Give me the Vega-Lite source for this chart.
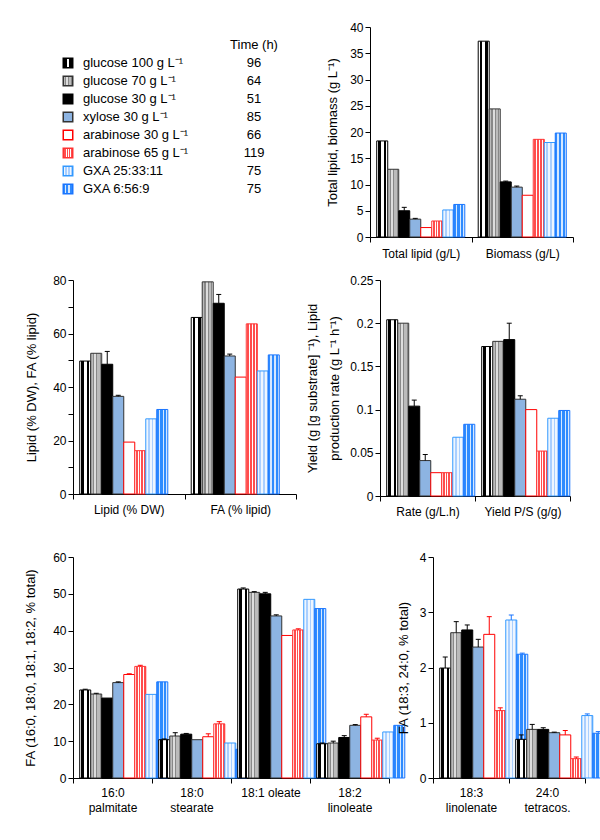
{
  "$schema": "https://vega.github.io/schema/vega-lite/v6.json",
  "padding": {"left": 24, "top": 21, "right": 5, "bottom": 5},
  "params": [
    {"name": "fills", "value": {
      "s1": {"gradient": "linear", "x1": 0, "y1": 0, "x2": 1, "y2": 0, "stops": [
        {"offset": 0, "color": "#ffffff"}, {"offset": 0.12, "color": "#ffffff"},
        {"offset": 0.12, "color": "#000000"}, {"offset": 0.38, "color": "#000000"},
        {"offset": 0.38, "color": "#ffffff"}, {"offset": 0.62, "color": "#ffffff"},
        {"offset": 0.62, "color": "#000000"}, {"offset": 0.88, "color": "#000000"},
        {"offset": 0.88, "color": "#ffffff"}, {"offset": 1, "color": "#ffffff"}]},
      "s2": {"gradient": "linear", "x1": 0, "y1": 0, "x2": 1, "y2": 0, "stops": [
        {"offset": 0, "color": "#bbbbbb"}, {"offset": 0.2, "color": "#bbbbbb"},
        {"offset": 0.2, "color": "#888888"}, {"offset": 0.3, "color": "#888888"},
        {"offset": 0.3, "color": "#dddddd"}, {"offset": 0.5, "color": "#dddddd"},
        {"offset": 0.5, "color": "#888888"}, {"offset": 0.6, "color": "#888888"},
        {"offset": 0.6, "color": "#bbbbbb"}, {"offset": 0.8, "color": "#bbbbbb"},
        {"offset": 0.8, "color": "#888888"}, {"offset": 0.9, "color": "#888888"},
        {"offset": 0.9, "color": "#dddddd"}, {"offset": 1, "color": "#dddddd"}]},
      "s3": "#000000",
      "s4": "#8DB4E2",
      "s5": "#ffffff",
      "s6": {"gradient": "linear", "x1": 0, "y1": 0, "x2": 1, "y2": 0, "stops": [
        {"offset": 0, "color": "#ffffff"}, {"offset": 0.1, "color": "#ffffff"},
        {"offset": 0.1, "color": "#ff4d4d"}, {"offset": 0.25, "color": "#ff4d4d"},
        {"offset": 0.25, "color": "#ffffff"}, {"offset": 0.35, "color": "#ffffff"},
        {"offset": 0.35, "color": "#ff4d4d"}, {"offset": 0.5, "color": "#ff4d4d"},
        {"offset": 0.5, "color": "#ffffff"}, {"offset": 0.6, "color": "#ffffff"},
        {"offset": 0.6, "color": "#ff4d4d"}, {"offset": 0.75, "color": "#ff4d4d"},
        {"offset": 0.75, "color": "#ffffff"}, {"offset": 0.85, "color": "#ffffff"},
        {"offset": 0.85, "color": "#ff4d4d"}, {"offset": 1, "color": "#ff4d4d"}]},
      "s7": {"gradient": "linear", "x1": 0, "y1": 0, "x2": 1, "y2": 0, "stops": [
        {"offset": 0, "color": "#eef6ff"}, {"offset": 0.2, "color": "#eef6ff"},
        {"offset": 0.2, "color": "#a9cfff"}, {"offset": 0.35, "color": "#a9cfff"},
        {"offset": 0.35, "color": "#eef6ff"}, {"offset": 0.55, "color": "#eef6ff"},
        {"offset": 0.55, "color": "#a9cfff"}, {"offset": 0.7, "color": "#a9cfff"},
        {"offset": 0.7, "color": "#eef6ff"}, {"offset": 0.85, "color": "#eef6ff"},
        {"offset": 0.85, "color": "#a9cfff"}, {"offset": 1, "color": "#a9cfff"}]},
      "s8": {"gradient": "linear", "x1": 0, "y1": 0, "x2": 1, "y2": 0, "stops": [
        {"offset": 0, "color": "#2e8bff"}, {"offset": 0.2, "color": "#2e8bff"},
        {"offset": 0.2, "color": "#d6e8ff"}, {"offset": 0.32, "color": "#d6e8ff"},
        {"offset": 0.32, "color": "#2e8bff"}, {"offset": 0.55, "color": "#2e8bff"},
        {"offset": 0.55, "color": "#d6e8ff"}, {"offset": 0.67, "color": "#d6e8ff"},
        {"offset": 0.67, "color": "#2e8bff"}, {"offset": 0.88, "color": "#2e8bff"},
        {"offset": 0.88, "color": "#d6e8ff"}, {"offset": 1, "color": "#d6e8ff"}]}
    }}
  ],
  "config": {
    "font": "Liberation Sans",
    "view": {"stroke": null},
    "axis": {
      "domainColor": "#000000", "tickColor": "#000000", "labelColor": "#000000", "titleColor": "#000000",
      "grid": false, "tickSize": 5, "labelFontSize": 12, "titleFontSize": 13, "titleFontWeight": "normal",
      "domainWidth": 1, "tickWidth": 1
    },
    "axisX": {"title": null, "labelAngle": 0, "tickBand": "extent", "labelLineHeight": 15, "labelExpr": "split(datum.label, '|')"}
  },
  "datasets": {
    "legend": [
      {"s": "s1", "label": "glucose 100 g L⁻¹", "time": "96"},
      {"s": "s2", "label": "glucose 70 g L⁻¹", "time": "64"},
      {"s": "s3", "label": "glucose 30 g L⁻¹", "time": "51"},
      {"s": "s4", "label": "xylose 30 g L⁻¹", "time": "85"},
      {"s": "s5", "label": "arabinose 30 g L⁻¹", "time": "66"},
      {"s": "s6", "label": "arabinose 65 g L⁻¹", "time": "119"},
      {"s": "s7", "label": "GXA 25:33:11", "time": "75"},
      {"s": "s8", "label": "GXA 6:56:9", "time": "75"}
    ],
    "tr": [
      {"c": "Total lipid (g/L)", "s": "s1", "v": 18.3},
      {"c": "Total lipid (g/L)", "s": "s2", "v": 12.9},
      {"c": "Total lipid (g/L)", "s": "s3", "v": 5.0, "hi": 5.65},
      {"c": "Total lipid (g/L)", "s": "s4", "v": 3.4, "hi": 3.55},
      {"c": "Total lipid (g/L)", "s": "s5", "v": 1.8},
      {"c": "Total lipid (g/L)", "s": "s6", "v": 3.05},
      {"c": "Total lipid (g/L)", "s": "s7", "v": 5.15},
      {"c": "Total lipid (g/L)", "s": "s8", "v": 6.2},
      {"c": "Biomass (g/L)", "s": "s1", "v": 37.3},
      {"c": "Biomass (g/L)", "s": "s2", "v": 24.4},
      {"c": "Biomass (g/L)", "s": "s3", "v": 10.5, "hi": 10.65},
      {"c": "Biomass (g/L)", "s": "s4", "v": 9.5, "hi": 9.7},
      {"c": "Biomass (g/L)", "s": "s5", "v": 7.95},
      {"c": "Biomass (g/L)", "s": "s6", "v": 18.6},
      {"c": "Biomass (g/L)", "s": "s7", "v": 18.0},
      {"c": "Biomass (g/L)", "s": "s8", "v": 19.8}
    ],
    "ml": [
      {"c": "Lipid (% DW)", "s": "s1", "v": 49.7},
      {"c": "Lipid (% DW)", "s": "s2", "v": 52.6},
      {"c": "Lipid (% DW)", "s": "s3", "v": 48.5, "hi": 53.3},
      {"c": "Lipid (% DW)", "s": "s4", "v": 36.5, "hi": 36.9},
      {"c": "Lipid (% DW)", "s": "s5", "v": 19.4},
      {"c": "Lipid (% DW)", "s": "s6", "v": 16.2},
      {"c": "Lipid (% DW)", "s": "s7", "v": 28.1},
      {"c": "Lipid (% DW)", "s": "s8", "v": 31.6},
      {"c": "FA (% lipid)", "s": "s1", "v": 66.0},
      {"c": "FA (% lipid)", "s": "s2", "v": 79.3},
      {"c": "FA (% lipid)", "s": "s3", "v": 71.3, "hi": 74.6},
      {"c": "FA (% lipid)", "s": "s4", "v": 51.6, "hi": 52.3},
      {"c": "FA (% lipid)", "s": "s5", "v": 43.7},
      {"c": "FA (% lipid)", "s": "s6", "v": 63.6},
      {"c": "FA (% lipid)", "s": "s7", "v": 46.0},
      {"c": "FA (% lipid)", "s": "s8", "v": 52.0}
    ],
    "mr": [
      {"c": "Rate (g/L.h)", "s": "s1", "v": 0.204},
      {"c": "Rate (g/L.h)", "s": "s2", "v": 0.200},
      {"c": "Rate (g/L.h)", "s": "s3", "v": 0.104, "hi": 0.111},
      {"c": "Rate (g/L.h)", "s": "s4", "v": 0.041, "hi": 0.048},
      {"c": "Rate (g/L.h)", "s": "s5", "v": 0.027},
      {"c": "Rate (g/L.h)", "s": "s6", "v": 0.027},
      {"c": "Rate (g/L.h)", "s": "s7", "v": 0.068},
      {"c": "Rate (g/L.h)", "s": "s8", "v": 0.083},
      {"c": "Yield P/S (g/g)", "s": "s1", "v": 0.173},
      {"c": "Yield P/S (g/g)", "s": "s2", "v": 0.179},
      {"c": "Yield P/S (g/g)", "s": "s3", "v": 0.181, "hi": 0.200},
      {"c": "Yield P/S (g/g)", "s": "s4", "v": 0.112, "hi": 0.116},
      {"c": "Yield P/S (g/g)", "s": "s5", "v": 0.100},
      {"c": "Yield P/S (g/g)", "s": "s6", "v": 0.052},
      {"c": "Yield P/S (g/g)", "s": "s7", "v": 0.090},
      {"c": "Yield P/S (g/g)", "s": "s8", "v": 0.099}
    ],
    "bl": [
      {"c": "16:0|palmitate", "s": "s1", "v": 23.9, "hi": 24.1},
      {"c": "16:0|palmitate", "s": "s2", "v": 22.8, "hi": 23.0},
      {"c": "16:0|palmitate", "s": "s3", "v": 21.7},
      {"c": "16:0|palmitate", "s": "s4", "v": 25.9, "hi": 26.1},
      {"c": "16:0|palmitate", "s": "s5", "v": 28.1, "hi": 28.3},
      {"c": "16:0|palmitate", "s": "s6", "v": 30.3, "hi": 30.6},
      {"c": "16:0|palmitate", "s": "s7", "v": 22.7},
      {"c": "16:0|palmitate", "s": "s8", "v": 26.1},
      {"c": "18:0|stearate", "s": "s1", "v": 10.4, "hi": 10.6},
      {"c": "18:0|stearate", "s": "s2", "v": 11.4, "hi": 12.3},
      {"c": "18:0|stearate", "s": "s3", "v": 11.9, "hi": 12.1},
      {"c": "18:0|stearate", "s": "s4", "v": 10.4},
      {"c": "18:0|stearate", "s": "s5", "v": 11.2, "hi": 12.0},
      {"c": "18:0|stearate", "s": "s6", "v": 14.7, "hi": 15.3},
      {"c": "18:0|stearate", "s": "s7", "v": 9.5},
      {"c": "18:0|stearate", "s": "s8", "v": 7.8},
      {"c": "18:1 oleate", "s": "s1", "v": 51.3, "hi": 51.6},
      {"c": "18:1 oleate", "s": "s2", "v": 50.4, "hi": 50.6},
      {"c": "18:1 oleate", "s": "s3", "v": 50.0, "hi": 50.4},
      {"c": "18:1 oleate", "s": "s4", "v": 44.0, "hi": 44.3},
      {"c": "18:1 oleate", "s": "s5", "v": 38.7},
      {"c": "18:1 oleate", "s": "s6", "v": 40.2, "hi": 40.5},
      {"c": "18:1 oleate", "s": "s7", "v": 48.5},
      {"c": "18:1 oleate", "s": "s8", "v": 46.0},
      {"c": "18:2|linoleate", "s": "s1", "v": 9.3, "hi": 9.5},
      {"c": "18:2|linoleate", "s": "s2", "v": 9.5, "hi": 10.0},
      {"c": "18:2|linoleate", "s": "s3", "v": 11.0, "hi": 11.5},
      {"c": "18:2|linoleate", "s": "s4", "v": 14.3, "hi": 14.5},
      {"c": "18:2|linoleate", "s": "s5", "v": 16.6, "hi": 17.3},
      {"c": "18:2|linoleate", "s": "s6", "v": 10.3, "hi": 10.8},
      {"c": "18:2|linoleate", "s": "s7", "v": 12.5},
      {"c": "18:2|linoleate", "s": "s8", "v": 14.3}
    ],
    "br": [
      {"c": "18:3|linolenate", "s": "s1", "v": 1.99, "hi": 2.19},
      {"c": "18:3|linolenate", "s": "s2", "v": 2.63, "hi": 2.83},
      {"c": "18:3|linolenate", "s": "s3", "v": 2.68, "hi": 2.77},
      {"c": "18:3|linolenate", "s": "s4", "v": 2.37, "hi": 2.51},
      {"c": "18:3|linolenate", "s": "s5", "v": 2.60, "hi": 2.92},
      {"c": "18:3|linolenate", "s": "s6", "v": 1.22, "hi": 1.27},
      {"c": "18:3|linolenate", "s": "s7", "v": 2.86, "hi": 2.95},
      {"c": "18:3|linolenate", "s": "s8", "v": 2.24, "hi": 2.26},
      {"c": "24:0|tetracos.", "s": "s1", "v": 0.70, "hi": 0.78},
      {"c": "24:0|tetracos.", "s": "s2", "v": 0.88, "hi": 0.97},
      {"c": "24:0|tetracos.", "s": "s3", "v": 0.88, "hi": 0.91},
      {"c": "24:0|tetracos.", "s": "s4", "v": 0.82, "hi": 0.83},
      {"c": "24:0|tetracos.", "s": "s5", "v": 0.78, "hi": 0.86},
      {"c": "24:0|tetracos.", "s": "s6", "v": 0.35, "hi": 0.38},
      {"c": "24:0|tetracos.", "s": "s7", "v": 1.13, "hi": 1.16},
      {"c": "24:0|tetracos.", "s": "s8", "v": 0.81, "hi": 0.84}
    ]
  },
  "spacing": 34,
  "vconcat": [
    {
      "spacing": 15,
      "vconcat": [
        {
          "spacing": 20,
          "hconcat": [
            {
              "width": 233, "height": 180,
              "data": {"name": "legend"},
              "encoding": {
                "y": {"field": "label", "type": "nominal", "scale": {"type": "point", "padding": 1.3, "domain": ["Time (h)", "glucose 100 g L⁻¹", "glucose 70 g L⁻¹", "glucose 30 g L⁻¹", "xylose 30 g L⁻¹", "arabinose 30 g L⁻¹", "arabinose 65 g L⁻¹", "GXA 25:33:11", "GXA 6:56:9"]}, "axis": null}
              },
              "layer": [
                {
                  "mark": {"type": "point", "shape": "square", "size": 90, "filled": true, "opacity": 1, "strokeWidth": 1.5, "fill": {"expr": "fills[datum.s]"}},
                  "encoding": {
                    "x": {"datum": 0, "type": "quantitative", "scale": {"domain": [0.0269, 1.2796], "nice": false, "zero": false}, "axis": null},
                    "stroke": {"field": "s", "type": "nominal", "scale": {"domain": ["s1","s2","s3","s4","s5","s6","s7","s8"], "range": ["#000000","#333333","#000000","#333333","#ff0000","#ff3333","#3399ff","#1a75ff"]}, "legend": null}
                  }
                },
                {
                  "mark": {"type": "text", "align": "left", "baseline": "middle", "dx": 15, "fontSize": 13, "color": "#000000"},
                  "encoding": {"x": {"datum": 0, "type": "quantitative"}, "text": {"field": "label"}}
                },
                {
                  "mark": {"type": "text", "align": "center", "baseline": "middle", "fontSize": 13, "color": "#000000"},
                  "encoding": {"x": {"datum": 1, "type": "quantitative"}, "text": {"field": "time"}}
                },
                {
                  "data": {"values": [{"label": "Time (h)"}]},
                  "mark": {"type": "text", "align": "center", "baseline": "middle", "fontSize": 13, "color": "#000000"},
                  "encoding": {"x": {"datum": 1, "type": "quantitative"}, "text": {"field": "label"}}
                }
              ]
            },
            {
              "width": 203, "height": 210,
              "data": {"name": "tr"},
              "encoding": {
                "x": {"field": "c", "type": "nominal", "sort": ["Total lipid (g/L)", "Biomass (g/L)"], "scale": {"paddingInner": 0, "paddingOuter": 0}, "axis": {"labelPadding": 6}},
                "xOffset": {"field": "s", "type": "nominal", "scale": {"paddingInner": 0, "paddingOuter": 0.61}}
              },
              "layer": [
                {
                  "mark": {"type": "bar", "strokeWidth": 1, "fill": {"expr": "fills[datum.s]"}},
                  "encoding": {
                    "y": {"field": "v", "type": "quantitative", "scale": {"domain": [0, 40], "nice": false}, "axis": {"title": "Total lipid, biomass (g L⁻¹)", "values": [0,5,10,15,20,25,30,35,40], "titlePadding": 10}},
                    "stroke": {"field": "s", "type": "nominal", "scale": {"domain": ["s1","s2","s3","s4","s5","s6","s7","s8"], "range": ["#000000","#333333","#000000","#333333","#ff0000","#ff3333","#3399ff","#1a75ff"]}, "legend": null}
                  }
                },
                {
                  "transform": [{"filter": "isValid(datum.hi)"}],
                  "mark": {"type": "rule", "strokeWidth": 1},
                  "encoding": {
                    "y": {"field": "v", "type": "quantitative", "scale": {"domain": [0, 40], "nice": false}, "axis": {"title": "Total lipid, biomass (g L⁻¹)", "values": [0,5,10,15,20,25,30,35,40], "titlePadding": 10}}, "y2": {"field": "hi"},
                    "color": {"field": "s", "type": "nominal", "scale": {"domain": ["s1","s2","s3","s4","s5","s6","s7","s8"], "range": ["#000000","#000000","#000000","#000000","#ff0000","#ff0000","#1a75ff","#1a75ff"]}, "legend": null}
                  }
                },
                {
                  "transform": [{"filter": "isValid(datum.hi)"}],
                  "mark": {"type": "tick", "size": 5, "thickness": 1, "opacity": 1},
                  "encoding": {
                    "y": {"field": "hi", "type": "quantitative", "scale": {"domain": [0, 40], "nice": false}, "axis": {"title": "Total lipid, biomass (g L⁻¹)", "values": [0,5,10,15,20,25,30,35,40], "titlePadding": 10}},
                    "color": {"field": "s", "type": "nominal", "scale": {"domain": ["s1","s2","s3","s4","s5","s6","s7","s8"], "range": ["#000000","#000000","#000000","#000000","#ff0000","#ff0000","#1a75ff","#1a75ff"]}, "legend": null}
                  }
                }
              ]
            }
          ]
        },
        {
          "spacing": 84,
          "bounds": "flush",
          "hconcat": [
            {
              "width": 223, "height": 214,
              "data": {"name": "ml"},
              "encoding": {
                "x": {"field": "c", "type": "nominal", "sort": ["Lipid (% DW)", "FA (% lipid)"], "scale": {"paddingInner": 0, "paddingOuter": 0}, "axis": {"labelPadding": 5}},
                "xOffset": {"field": "s", "type": "nominal", "scale": {"paddingInner": 0, "paddingOuter": 0.685}}
              },
              "layer": [
                {
                  "mark": {"type": "bar", "strokeWidth": 1, "fill": {"expr": "fills[datum.s]"}},
                  "encoding": {
                    "y": {"field": "v", "type": "quantitative", "scale": {"domain": [0, 80], "nice": false}, "axis": {"title": "Lipid (% DW), FA (% lipid)", "values": [0,10,20,30,40,50,60,70,80], "labelExpr": "datum.value % 20 == 0 ? datum.label : ''", "titlePadding": 14}},
                    "stroke": {"field": "s", "type": "nominal", "scale": {"domain": ["s1","s2","s3","s4","s5","s6","s7","s8"], "range": ["#000000","#333333","#000000","#333333","#ff0000","#ff3333","#3399ff","#1a75ff"]}, "legend": null}
                  }
                },
                {
                  "transform": [{"filter": "isValid(datum.hi)"}],
                  "mark": {"type": "rule", "strokeWidth": 1},
                  "encoding": {
                    "y": {"field": "v", "type": "quantitative", "scale": {"domain": [0, 80], "nice": false}, "axis": {"title": "Lipid (% DW), FA (% lipid)", "values": [0,10,20,30,40,50,60,70,80], "labelExpr": "datum.value % 20 == 0 ? datum.label : ''", "titlePadding": 14}}, "y2": {"field": "hi"},
                    "color": {"field": "s", "type": "nominal", "scale": {"domain": ["s1","s2","s3","s4","s5","s6","s7","s8"], "range": ["#000000","#000000","#000000","#000000","#ff0000","#ff0000","#1a75ff","#1a75ff"]}, "legend": null}
                  }
                },
                {
                  "transform": [{"filter": "isValid(datum.hi)"}],
                  "mark": {"type": "tick", "size": 5, "thickness": 1, "opacity": 1},
                  "encoding": {
                    "y": {"field": "hi", "type": "quantitative", "scale": {"domain": [0, 80], "nice": false}, "axis": {"title": "Lipid (% DW), FA (% lipid)", "values": [0,10,20,30,40,50,60,70,80], "labelExpr": "datum.value % 20 == 0 ? datum.label : ''", "titlePadding": 14}},
                    "color": {"field": "s", "type": "nominal", "scale": {"domain": ["s1","s2","s3","s4","s5","s6","s7","s8"], "range": ["#000000","#000000","#000000","#000000","#ff0000","#ff0000","#1a75ff","#1a75ff"]}, "legend": null}
                  }
                }
              ]
            },
            {
              "width": 190, "height": 216,
              "data": {"name": "mr"},
              "encoding": {
                "x": {"field": "c", "type": "nominal", "sort": ["Rate (g/L.h)", "Yield P/S (g/g)"], "scale": {"paddingInner": 0, "paddingOuter": 0}, "axis": {"labelPadding": 5}},
                "xOffset": {"field": "s", "type": "nominal", "scale": {"paddingInner": 0, "paddingOuter": 0.75}}
              },
              "layer": [
                {
                  "mark": {"type": "bar", "strokeWidth": 1, "fill": {"expr": "fills[datum.s]"}},
                  "encoding": {
                    "y": {"field": "v", "type": "quantitative", "scale": {"domain": [0, 0.25], "nice": false}, "axis": {"title": ["Yield (g [g substrate] ⁻¹), Lipid", "production rate (g L⁻¹ h⁻¹)"], "titleLineHeight": 22, "values": [0,0.05,0.1,0.15,0.2,0.25], "format": "~f", "titlePadding": 8}},
                    "stroke": {"field": "s", "type": "nominal", "scale": {"domain": ["s1","s2","s3","s4","s5","s6","s7","s8"], "range": ["#000000","#333333","#000000","#333333","#ff0000","#ff3333","#3399ff","#1a75ff"]}, "legend": null}
                  }
                },
                {
                  "transform": [{"filter": "isValid(datum.hi)"}],
                  "mark": {"type": "rule", "strokeWidth": 1},
                  "encoding": {
                    "y": {"field": "v", "type": "quantitative", "scale": {"domain": [0, 0.25], "nice": false}, "axis": {"title": ["Yield (g [g substrate] ⁻¹), Lipid", "production rate (g L⁻¹ h⁻¹)"], "titleLineHeight": 22, "values": [0,0.05,0.1,0.15,0.2,0.25], "format": "~f", "titlePadding": 8}}, "y2": {"field": "hi"},
                    "color": {"field": "s", "type": "nominal", "scale": {"domain": ["s1","s2","s3","s4","s5","s6","s7","s8"], "range": ["#000000","#000000","#000000","#000000","#ff0000","#ff0000","#1a75ff","#1a75ff"]}, "legend": null}
                  }
                },
                {
                  "transform": [{"filter": "isValid(datum.hi)"}],
                  "mark": {"type": "tick", "size": 5, "thickness": 1, "opacity": 1},
                  "encoding": {
                    "y": {"field": "hi", "type": "quantitative", "scale": {"domain": [0, 0.25], "nice": false}, "axis": {"title": ["Yield (g [g substrate] ⁻¹), Lipid", "production rate (g L⁻¹ h⁻¹)"], "titleLineHeight": 22, "values": [0,0.05,0.1,0.15,0.2,0.25], "format": "~f", "titlePadding": 8}},
                    "color": {"field": "s", "type": "nominal", "scale": {"domain": ["s1","s2","s3","s4","s5","s6","s7","s8"], "range": ["#000000","#000000","#000000","#000000","#ff0000","#ff0000","#1a75ff","#1a75ff"]}, "legend": null}
                  }
                }
              ]
            }
          ]
        }
      ]
    },
    {
      "spacing": 44,
      "bounds": "flush",
      "hconcat": [
        {
          "width": 316, "height": 221,
          "data": {"name": "bl"},
          "encoding": {
            "x": {"field": "c", "type": "nominal", "sort": ["16:0|palmitate", "18:0|stearate", "18:1 oleate", "18:2|linoleate"], "scale": {"paddingInner": 0, "paddingOuter": 0}, "axis": {"labelPadding": 4}},
            "xOffset": {"field": "s", "type": "nominal", "scale": {"paddingInner": 0, "paddingOuter": 0.74}}
          },
          "layer": [
            {
              "mark": {"type": "bar", "strokeWidth": 1, "fill": {"expr": "fills[datum.s]"}},
              "encoding": {
                "y": {"field": "v", "type": "quantitative", "scale": {"domain": [0, 60], "nice": false}, "axis": {"title": "FA (16:0, 18:0, 18:1, 18:2, % total)", "values": [0,10,20,30,40,50,60], "titlePadding": 15}},
                "stroke": {"field": "s", "type": "nominal", "scale": {"domain": ["s1","s2","s3","s4","s5","s6","s7","s8"], "range": ["#000000","#333333","#000000","#333333","#ff0000","#ff3333","#3399ff","#1a75ff"]}, "legend": null}
              }
            },
            {
              "transform": [{"filter": "isValid(datum.hi)"}],
              "mark": {"type": "rule", "strokeWidth": 1},
              "encoding": {
                "y": {"field": "v", "type": "quantitative", "scale": {"domain": [0, 60], "nice": false}, "axis": {"title": "FA (16:0, 18:0, 18:1, 18:2, % total)", "values": [0,10,20,30,40,50,60], "titlePadding": 15}}, "y2": {"field": "hi"},
                "color": {"field": "s", "type": "nominal", "scale": {"domain": ["s1","s2","s3","s4","s5","s6","s7","s8"], "range": ["#000000","#000000","#000000","#000000","#ff0000","#ff0000","#1a75ff","#1a75ff"]}, "legend": null}
              }
            },
            {
              "transform": [{"filter": "isValid(datum.hi)"}],
              "mark": {"type": "tick", "size": 5, "thickness": 1, "opacity": 1},
              "encoding": {
                "y": {"field": "hi", "type": "quantitative", "scale": {"domain": [0, 60], "nice": false}, "axis": {"title": "FA (16:0, 18:0, 18:1, 18:2, % total)", "values": [0,10,20,30,40,50,60], "titlePadding": 15}},
                "color": {"field": "s", "type": "nominal", "scale": {"domain": ["s1","s2","s3","s4","s5","s6","s7","s8"], "range": ["#000000","#000000","#000000","#000000","#ff0000","#ff0000","#1a75ff","#1a75ff"]}, "legend": null}
              }
            }
          ]
        },
        {
          "width": 152, "height": 221,
          "data": {"name": "br"},
          "encoding": {
            "x": {"field": "c", "type": "nominal", "sort": ["18:3|linolenate", "24:0|tetracos."], "scale": {"paddingInner": 0, "paddingOuter": 0}, "axis": {"labelPadding": 4}},
            "xOffset": {"field": "s", "type": "nominal", "scale": {"paddingInner": 0, "paddingOuter": 0.73}}
          },
          "layer": [
            {
              "mark": {"type": "bar", "strokeWidth": 1, "fill": {"expr": "fills[datum.s]"}},
              "encoding": {
                "y": {"field": "v", "type": "quantitative", "scale": {"domain": [0, 4], "nice": false}, "axis": {"title": "FA (18:3, 24:0, % total)", "values": [0,1,2,3,4], "format": "d", "titlePadding": 9}},
                "stroke": {"field": "s", "type": "nominal", "scale": {"domain": ["s1","s2","s3","s4","s5","s6","s7","s8"], "range": ["#000000","#333333","#000000","#333333","#ff0000","#ff3333","#3399ff","#1a75ff"]}, "legend": null}
              }
            },
            {
              "transform": [{"filter": "isValid(datum.hi)"}],
              "mark": {"type": "rule", "strokeWidth": 1},
              "encoding": {
                "y": {"field": "v", "type": "quantitative", "scale": {"domain": [0, 4], "nice": false}, "axis": {"title": "FA (18:3, 24:0, % total)", "values": [0,1,2,3,4], "format": "d", "titlePadding": 9}}, "y2": {"field": "hi"},
                "color": {"field": "s", "type": "nominal", "scale": {"domain": ["s1","s2","s3","s4","s5","s6","s7","s8"], "range": ["#000000","#000000","#000000","#000000","#ff0000","#ff0000","#1a75ff","#1a75ff"]}, "legend": null}
              }
            },
            {
              "transform": [{"filter": "isValid(datum.hi)"}],
              "mark": {"type": "tick", "size": 5, "thickness": 1, "opacity": 1},
              "encoding": {
                "y": {"field": "hi", "type": "quantitative", "scale": {"domain": [0, 4], "nice": false}, "axis": {"title": "FA (18:3, 24:0, % total)", "values": [0,1,2,3,4], "format": "d", "titlePadding": 9}},
                "color": {"field": "s", "type": "nominal", "scale": {"domain": ["s1","s2","s3","s4","s5","s6","s7","s8"], "range": ["#000000","#000000","#000000","#000000","#ff0000","#ff0000","#1a75ff","#1a75ff"]}, "legend": null}
              }
            }
          ]
        }
      ]
    }
  ]
}
